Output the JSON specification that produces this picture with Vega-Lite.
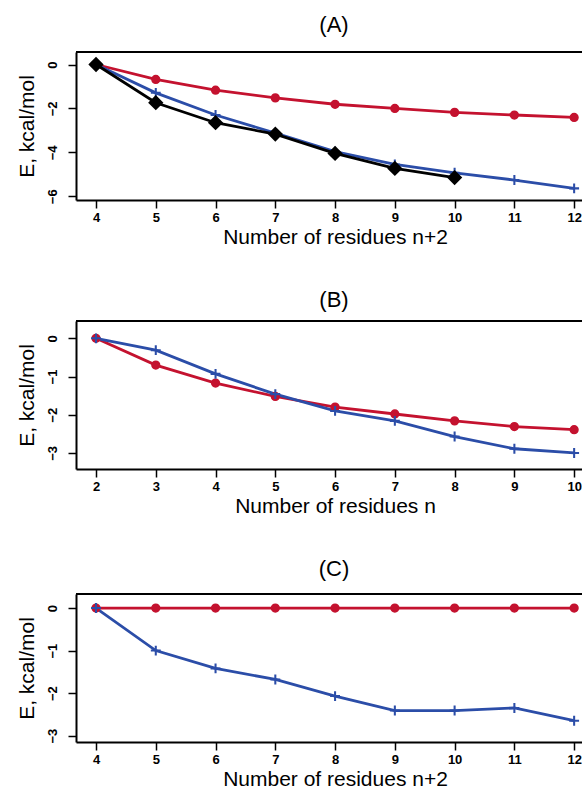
{
  "$schema": "https://vega.github.io/schema/vega-lite/v6.json",
  "padding": {"left": 15, "top": 14, "right": 0, "bottom": 0},
  "spacing": 42,
  "config": {
    "view": {"stroke": null},
    "axis": {
      "labelFont": "Liberation Sans", "labelFontWeight": "bold", "labelFontSize": 13, "labelColor": "black",
      "tickColor": "black", "tickWidth": 1.5, "tickSize": 8,
      "domainColor": "black", "domainWidth": 2, "grid": false,
      "titleFont": "Liberation Sans", "titleFontSize": 21, "titleFontWeight": "normal", "titleColor": "black",
      "labelOverlap": false, "labelBound": false, "labelFlush": false
    },
    "axisX": {"labelPadding": 3, "titlePadding": 2, "titleX": 259, "format": "d"},
    "axisY": {"labelAngle": 270, "labelAlign": "center", "labelBaseline": "bottom", "labelPadding": 9, "titlePadding": 9},
    "title": {"font": "Liberation Sans", "fontSize": 22, "fontWeight": "normal", "color": "black", "frame": "group", "dx": 4}
  },
  "datasets": {
    "A": [
      {"series": "red", "n": 4, "E": 0}, {"series": "red", "n": 5, "E": -0.68}, {"series": "red", "n": 6, "E": -1.17},
      {"series": "red", "n": 7, "E": -1.52}, {"series": "red", "n": 8, "E": -1.81}, {"series": "red", "n": 9, "E": -2.0},
      {"series": "red", "n": 10, "E": -2.18}, {"series": "red", "n": 11, "E": -2.3}, {"series": "red", "n": 12, "E": -2.41},
      {"series": "blue", "n": 4, "E": 0}, {"series": "blue", "n": 5, "E": -1.29}, {"series": "blue", "n": 6, "E": -2.3},
      {"series": "blue", "n": 7, "E": -3.12}, {"series": "blue", "n": 8, "E": -3.97}, {"series": "blue", "n": 9, "E": -4.55},
      {"series": "blue", "n": 10, "E": -4.93}, {"series": "blue", "n": 11, "E": -5.26}, {"series": "blue", "n": 12, "E": -5.64},
      {"series": "black", "n": 4, "E": 0}, {"series": "black", "n": 5, "E": -1.74}, {"series": "black", "n": 6, "E": -2.65},
      {"series": "black", "n": 7, "E": -3.17}, {"series": "black", "n": 8, "E": -4.05}, {"series": "black", "n": 9, "E": -4.73},
      {"series": "black", "n": 10, "E": -5.15}
    ],
    "B": [
      {"series": "red", "n": 2, "E": 0}, {"series": "red", "n": 3, "E": -0.7}, {"series": "red", "n": 4, "E": -1.17},
      {"series": "red", "n": 5, "E": -1.52}, {"series": "red", "n": 6, "E": -1.8}, {"series": "red", "n": 7, "E": -1.98},
      {"series": "red", "n": 8, "E": -2.16}, {"series": "red", "n": 9, "E": -2.31}, {"series": "red", "n": 10, "E": -2.39},
      {"series": "blue", "n": 2, "E": 0}, {"series": "blue", "n": 3, "E": -0.31}, {"series": "blue", "n": 4, "E": -0.93},
      {"series": "blue", "n": 5, "E": -1.46}, {"series": "blue", "n": 6, "E": -1.9}, {"series": "blue", "n": 7, "E": -2.16},
      {"series": "blue", "n": 8, "E": -2.57}, {"series": "blue", "n": 9, "E": -2.89}, {"series": "blue", "n": 10, "E": -3.0}
    ],
    "C": [
      {"series": "red", "n": 4, "E": 0}, {"series": "red", "n": 5, "E": 0}, {"series": "red", "n": 6, "E": 0},
      {"series": "red", "n": 7, "E": 0}, {"series": "red", "n": 8, "E": 0}, {"series": "red", "n": 9, "E": 0},
      {"series": "red", "n": 10, "E": 0}, {"series": "red", "n": 11, "E": 0}, {"series": "red", "n": 12, "E": 0},
      {"series": "blue", "n": 4, "E": 0}, {"series": "blue", "n": 5, "E": -1.0}, {"series": "blue", "n": 6, "E": -1.42},
      {"series": "blue", "n": 7, "E": -1.68}, {"series": "blue", "n": 8, "E": -2.07}, {"series": "blue", "n": 9, "E": -2.41},
      {"series": "blue", "n": 10, "E": -2.41}, {"series": "blue", "n": 11, "E": -2.35}, {"series": "blue", "n": 12, "E": -2.65}
    ]
  },
  "vconcat": [
    {
      "title": {"text": "(A)", "offset": 14},
      "width": 508, "height": 148,
      "data": {"name": "A"},
      "layer": [
        {"mark": {"type": "line", "strokeWidth": 2.8},
         "encoding": {
           "x": {"field": "n", "type": "quantitative", "scale": {"domain": [3.665, 12.165], "nice": false, "zero": false},
                 "axis": {"values": [4, 5, 6, 7, 8, 9, 10, 11, 12], "title": "Number of residues n+2"}},
           "y": {"field": "E", "type": "quantitative", "scale": {"domain": [-6.17, 0.57], "nice": false, "zero": false},
                 "axis": {"values": [-6, -5, -4, -3, -2, -1, 0], "labelExpr": "datum.value % 2 == 0 ? datum.label : ''", "title": "E, kcal/mol"}},
           "color": {"field": "series", "type": "nominal", "scale": {"domain": ["red", "blue", "black"], "range": ["#C4122F", "#2B4DA8", "#000000"]}, "legend": null}}},
        {"mark": {"type": "point", "filled": true, "opacity": 1},
         "encoding": {
           "x": {"field": "n", "type": "quantitative"},
           "y": {"field": "E", "type": "quantitative"},
           "color": {"field": "series", "type": "nominal", "scale": {"domain": ["red", "blue", "black"], "range": ["#C4122F", "#2B4DA8", "#000000"]}, "legend": null},
           "stroke": {"field": "series", "type": "nominal", "scale": {"domain": ["red", "blue", "black"], "range": ["#C4122F", "#2B4DA8", "#000000"]}, "legend": null},
           "shape": {"field": "series", "type": "nominal", "scale": {"domain": ["red", "blue", "black"], "range": ["circle", "M-1,0H1M0,-1V1", "diamond"]}, "legend": null},
           "size": {"field": "series", "type": "nominal", "scale": {"domain": ["red", "blue", "black"], "range": [60, 135, 80]}, "legend": null},
           "strokeWidth": {"field": "series", "type": "nominal", "scale": {"domain": ["red", "blue", "black"], "range": [1.5, 2.6, 1.5]}, "legend": null}
         }},
        {"mark": {"type": "rule", "color": "black", "strokeWidth": 2}, "encoding": {"y": {"datum": 0.57}}}
      ]
    },
    {
      "title": {"text": "(B)", "offset": 8},
      "width": 508, "height": 148,
      "data": {"name": "B"},
      "layer": [
        {"mark": {"type": "line", "strokeWidth": 2.8},
         "encoding": {
           "x": {"field": "n", "type": "quantitative", "scale": {"domain": [1.665, 10.165], "nice": false, "zero": false},
                 "axis": {"values": [2, 3, 4, 5, 6, 7, 8, 9, 10], "title": "Number of residues n"}},
           "y": {"field": "E", "type": "quantitative", "scale": {"domain": [-3.42, 0.454], "nice": false, "zero": false},
                 "axis": {"values": [-3, -2.5, -2, -1.5, -1, -0.5, 0], "labelExpr": "datum.value % 1 == 0 ? format(datum.value, 'd') : ''", "title": "E, kcal/mol"}},
           "color": {"field": "series", "type": "nominal", "scale": {"domain": ["red", "blue"], "range": ["#C4122F", "#2B4DA8"]}, "legend": null}}},
        {"mark": {"type": "point", "filled": true, "opacity": 1},
         "encoding": {
           "x": {"field": "n", "type": "quantitative"},
           "y": {"field": "E", "type": "quantitative"},
           "color": {"field": "series", "type": "nominal", "scale": {"domain": ["red", "blue"], "range": ["#C4122F", "#2B4DA8"]}, "legend": null},
           "stroke": {"field": "series", "type": "nominal", "scale": {"domain": ["red", "blue"], "range": ["#C4122F", "#2B4DA8"]}, "legend": null},
           "shape": {"field": "series", "type": "nominal", "scale": {"domain": ["red", "blue"], "range": ["circle", "M-1,0H1M0,-1V1"]}, "legend": null},
           "size": {"field": "series", "type": "nominal", "scale": {"domain": ["red", "blue"], "range": [60, 135]}, "legend": null},
           "strokeWidth": {"field": "series", "type": "nominal", "scale": {"domain": ["red", "blue"], "range": [1.5, 2.6]}, "legend": null}
         }},
        {"mark": {"type": "rule", "color": "black", "strokeWidth": 2}, "encoding": {"y": {"datum": 0.454}}}
      ]
    },
    {
      "title": {"text": "(C)", "offset": 12},
      "width": 508, "height": 148,
      "data": {"name": "C"},
      "layer": [
        {"mark": {"type": "line", "strokeWidth": 2.8},
         "encoding": {
           "x": {"field": "n", "type": "quantitative", "scale": {"domain": [3.665, 12.165], "nice": false, "zero": false},
                 "axis": {"values": [4, 5, 6, 7, 8, 9, 10, 11, 12], "title": "Number of residues n+2"}},
           "y": {"field": "E", "type": "quantitative", "scale": {"domain": [-3.15, 0.33], "nice": false, "zero": false},
                 "axis": {"values": [-3, -2.5, -2, -1.5, -1, -0.5, 0], "labelExpr": "datum.value % 1 == 0 ? format(datum.value, 'd') : ''", "title": "E, kcal/mol"}},
           "color": {"field": "series", "type": "nominal", "scale": {"domain": ["red", "blue"], "range": ["#C4122F", "#2B4DA8"]}, "legend": null}}},
        {"mark": {"type": "point", "filled": true, "opacity": 1},
         "encoding": {
           "x": {"field": "n", "type": "quantitative"},
           "y": {"field": "E", "type": "quantitative"},
           "color": {"field": "series", "type": "nominal", "scale": {"domain": ["red", "blue"], "range": ["#C4122F", "#2B4DA8"]}, "legend": null},
           "stroke": {"field": "series", "type": "nominal", "scale": {"domain": ["red", "blue"], "range": ["#C4122F", "#2B4DA8"]}, "legend": null},
           "shape": {"field": "series", "type": "nominal", "scale": {"domain": ["red", "blue"], "range": ["circle", "M-1,0H1M0,-1V1"]}, "legend": null},
           "size": {"field": "series", "type": "nominal", "scale": {"domain": ["red", "blue"], "range": [60, 135]}, "legend": null},
           "strokeWidth": {"field": "series", "type": "nominal", "scale": {"domain": ["red", "blue"], "range": [1.5, 2.6]}, "legend": null}
         }},
        {"mark": {"type": "rule", "color": "black", "strokeWidth": 2}, "encoding": {"y": {"datum": 0.33}}}
      ]
    }
  ]
}
